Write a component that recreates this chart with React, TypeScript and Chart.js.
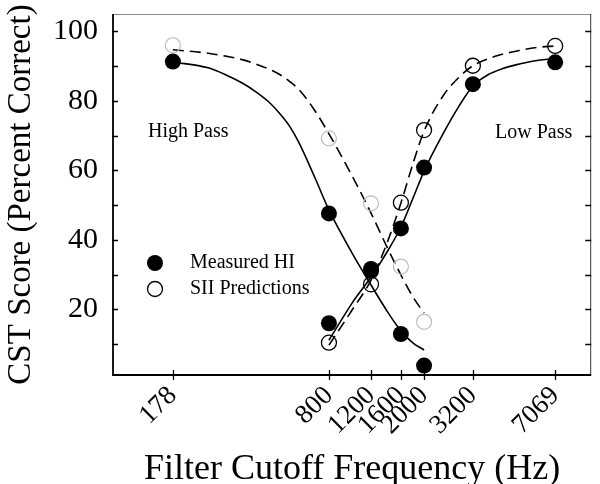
import React, { useEffect, useRef } from 'react';
import { Chart, registerables } from 'chart.js';

Chart.register(...registerables);

// ---- data ----
const xTickValues = [178, 800, 1200, 1600, 2000, 3200, 7069];
const yTickLabels = [20, 40, 60, 80, 100];
const yMinorTicks = [10, 30, 50, 70, 90];

const hpFreqs = [178, 800, 1200, 1600, 2000];
const lpFreqs = [800, 1200, 1600, 2000, 3200, 7069];
const measuredHP = [91.3, 47.6, 31.6, 12.9, 3.8];
const measuredLP = [16.0, 31.0, 43.3, 60.8, 84.8, 91.1];
const predictedHP = [96.0, 69.2, 50.5, 32.3, 16.4];
const predictedLP = [10.4, 27.2, 50.7, 71.6, 90.1, 95.8];

// fitted curves
const hpMeasuredFitFreqs = [178, 250, 300, 350, 400, 450, 500, 550, 600, 700, 800, 1000, 1200, 1400, 1600, 1800, 2000];
const hpMeasuredFit = [91.2, 89.5, 87.3, 85.0, 82.4, 79.6, 76.2, 72.5, 67.9, 57.8, 48.6, 36.2, 27.0, 19.5, 13.8, 10.3, 8.3];
const hpPredictedFitFreqs = [178, 250, 300, 350, 400, 450, 500, 550, 600, 700, 800, 1000, 1200, 1400, 1600, 1800, 2000];
const hpPredictedFit = [94.7, 93.7, 92.8, 91.8, 90.5, 89.1, 87.5, 85.5, 83.2, 77.1, 70.5, 58.4, 47.7, 37.9, 29.9, 23.5, 18.9];
const lpMeasuredFitFreqs = [800, 1000, 1200, 1400, 1600, 1800, 2000, 2400, 2800, 3200, 3700, 4266, 5000, 5675, 7069];
const lpMeasuredFit = [11.1, 21.8, 29.3, 36.5, 43.7, 52.1, 59.8, 70.5, 78.5, 84.3, 87.5, 89.3, 90.6, 91.4, 92.2];
const lpPredictedFitFreqs = [800, 1000, 1200, 1400, 1600, 1800, 2000, 2400, 2800, 3200, 4000, 5000, 6000, 7069];
const lpPredictedFit = [9.7, 19.8, 28.4, 39.1, 50.6, 62.1, 71.3, 81.4, 86.8, 90.1, 92.9, 94.5, 95.4, 95.8];

const legendLabels = ['Measured HI', 'SII Predictions'];
const regionLabels = ['High Pass', 'Low Pass'];

const FONT = '"Liberation Serif", "Times New Roman", serif';

const pts = (xs: number[], ys: number[]) => xs.map((x, i) => ({ x, y: ys[i] }));

const decorPlugin = {
  id: 'decor',
  afterDraw(chart: any) {
    const { ctx, chartArea: a, scales } = chart;
    const xs = scales.x;
    const ys = scales.y;
    ctx.save();
    // frame
    ctx.strokeStyle = '#8a8a8a';
    ctx.lineWidth = 1;
    ctx.beginPath();
    ctx.moveTo(a.left, a.top + 0.5);
    ctx.lineTo(a.right, a.top + 0.5);
    ctx.stroke();
    ctx.strokeStyle = '#333';
    ctx.beginPath();
    ctx.moveTo(a.right - 0.5, a.top);
    ctx.lineTo(a.right - 0.5, a.bottom);
    ctx.stroke();
    ctx.strokeStyle = '#000';
    ctx.lineWidth = 1.8;
    ctx.beginPath();
    ctx.moveTo(a.left, a.top);
    ctx.lineTo(a.left, a.bottom);
    ctx.lineTo(a.right, a.bottom);
    ctx.stroke();
    // ticks
    ctx.lineWidth = 1.3;
    ctx.beginPath();
    [...yTickLabels, ...yMinorTicks].forEach((v) => {
      const y = Math.round(ys.getPixelForValue(v)) + 0.5;
      ctx.moveTo(a.left - 1, y);
      ctx.lineTo(a.left + 5, y);
      ctx.moveTo(a.right - 6, y);
      ctx.lineTo(a.right, y);
    });
    xTickValues.forEach((v) => {
      const x = Math.round(xs.getPixelForValue(v)) + 0.5;
      ctx.moveTo(x, a.bottom - 5);
      ctx.lineTo(x, a.bottom + 5);
    });
    ctx.stroke();
    // region labels
    ctx.fillStyle = '#000';
    ctx.font = `20px ${FONT}`;
    ctx.textBaseline = 'middle';
    ctx.textAlign = 'left';
    ctx.fillText(regionLabels[0], a.left + 35, a.top + 118);
    ctx.fillText(regionLabels[1], a.left + 382, a.top + 119);
    // legend
    const lx = a.left + 42;
    const ly1 = a.top + 249;
    const ly2 = a.top + 275;
    ctx.beginPath();
    ctx.arc(lx, ly1, 8, 0, Math.PI * 2);
    ctx.fill();
    ctx.beginPath();
    ctx.lineWidth = 1.3;
    ctx.arc(lx, ly2, 7.5, 0, Math.PI * 2);
    ctx.stroke();
    ctx.fillText(legendLabels[0], a.left + 77, ly1);
    ctx.fillText(legendLabels[1], a.left + 77, ly2);
    ctx.restore();
  },
};

export default function App() {
  const ref = useRef<HTMLCanvasElement | null>(null);
  useEffect(() => {
    document.body.style.margin = '0';
    const canvas = ref.current;
    if (!canvas) return;
    const lineDs = (label: string, xs: number[], ys: number[], dash: number[]) => ({
      label,
      data: pts(xs, ys),
      showLine: true,
      pointRadius: 0,
      borderColor: '#000',
      borderWidth: 1.6,
      borderDash: dash,
      cubicInterpolationMode: 'monotone',
      order: 1,
    });
    const chart = new Chart(canvas, {
      type: 'scatter',
      data: {
        datasets: [
          {
            label: 'Measured HI (high pass)',
            data: pts(hpFreqs, measuredHP),
            pointRadius: 8,
            backgroundColor: '#000',
            borderColor: '#000',
            pointBorderWidth: 0,
            showLine: false,
            order: 0,
          },
          {
            label: 'Measured HI (low pass)',
            data: pts(lpFreqs, measuredLP),
            pointRadius: 8,
            backgroundColor: '#000',
            borderColor: '#000',
            pointBorderWidth: 0,
            showLine: false,
            order: 0,
          },
          {
            label: 'SII Predictions (high pass)',
            data: pts(hpFreqs, predictedHP),
            pointRadius: 7.5,
            backgroundColor: 'rgba(0,0,0,0)',
            borderColor: '#bdbdbd',
            pointBorderWidth: 1.2,
            showLine: false,
            order: 0,
          },
          {
            label: 'SII Predictions (low pass)',
            data: pts(lpFreqs, predictedLP),
            pointRadius: 7.5,
            backgroundColor: 'rgba(0,0,0,0)',
            borderColor: '#000',
            pointBorderWidth: 1.3,
            showLine: false,
            order: 0,
          },
          lineDs('Measured fit HP', hpMeasuredFitFreqs, hpMeasuredFit, []),
          lineDs('Measured fit LP', lpMeasuredFitFreqs, lpMeasuredFit, []),
          lineDs('Predicted fit HP', hpPredictedFitFreqs, hpPredictedFit, [11, 6]),
          lineDs('Predicted fit LP', lpPredictedFitFreqs, lpPredictedFit, [11, 6]),
        ],
      },
      options: {
        animation: false,
        responsive: false,
        layout: { padding: { top: 14, right: 5, left: 0, bottom: 0 } },
        plugins: { legend: { display: false }, tooltip: { enabled: false } },
        scales: {
          x: {
            type: 'logarithmic',
            min: 100,
            max: 10000,
            grid: { display: false, drawTicks: false },
            border: { display: false },
            afterBuildTicks: (s: any) => {
              s.ticks = xTickValues.map((v) => ({ value: v }));
            },
            afterFit: (s: any) => {
              s.height = 109;
              s.paddingLeft = 0;
              s.paddingRight = 0;
            },
            ticks: {
              autoSkip: false,
              minRotation: 45,
              maxRotation: 45,
              padding: 5,
              color: '#000',
              font: { family: FONT, size: 27 },
              callback: (v: any) => String(v),
            },
            title: {
              display: true,
              text: 'Filter Cutoff Frequency (Hz)',
              color: '#000',
              font: { family: FONT, size: 36, lineHeight: 0.78 },
              padding: { top: 0, bottom: 0 },
            },
          },
          y: {
            min: 1.1,
            max: 105,
            grid: { display: false, drawTicks: false },
            border: { display: false },
            afterBuildTicks: (s: any) => {
              s.ticks = yTickLabels.map((v) => ({ value: v }));
            },
            afterFit: (s: any) => {
              s.width = 113;
              s.paddingTop = 0;
              s.paddingBottom = 0;
            },
            ticks: {
              padding: 15,
              color: '#000',
              font: { family: FONT, size: 30 },
              callback: (v: any) => String(v),
            },
            title: {
              display: true,
              text: 'CST Score (Percent Correct)',
              color: '#000',
              font: { family: FONT, size: 33, lineHeight: 1.2 },
              padding: { top: 2, bottom: 0 },
            },
          },
        },
      },
      plugins: [decorPlugin],
    } as any);
    return () => chart.destroy();
  }, []);
  return (
    <div style={{ width: 600, height: 484 }}>
      <canvas ref={ref} width={600} height={484} style={{ display: 'block' }} />
    </div>
  );
}
